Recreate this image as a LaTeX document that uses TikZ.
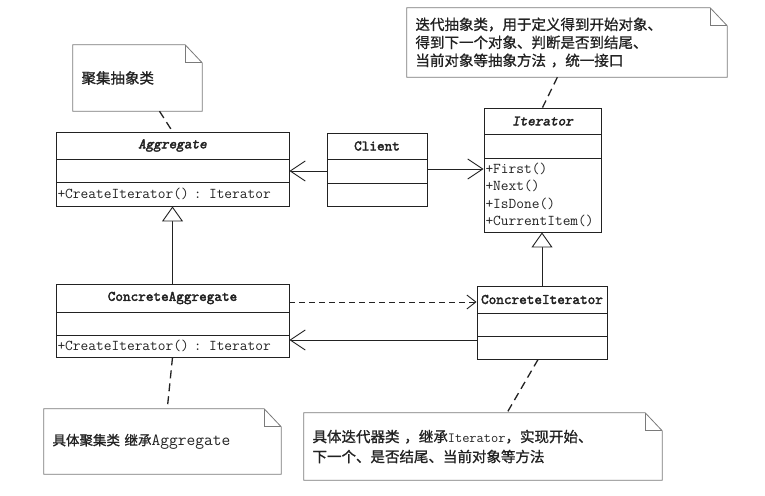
\documentclass[tikz,border=0pt]{standalone}
\usepackage{fontspec}
\newfontfamily\cjk{Noto Sans CJK SC}[FakeBold=1]
\newfontfamily\clsfont{lmmono10-regular}[Extension=.otf, FakeBold=2.5]
\newfontfamily\clsifont{lmmono10-regular}[Extension=.otf, FakeBold=2.5, FakeSlant=0.2]
\usetikzlibrary{arrows.meta,calc}
\definecolor{ink}{HTML}{222222}
\definecolor{notegray}{HTML}{7A7A7A}
\begin{document}
\begin{tikzpicture}[x=1pt,y=-1pt,
  box/.style={draw=ink, line width=0.9pt, rectangle, inner sep=0pt, anchor=center, text=ink},
  clsname/.style={font=\clsfont\fontsize{14.5}{14.5}\selectfont},
  clsabs/.style={font=\clsifont\fontsize{14.5}{14.5}\selectfont},
  member/.style={font=\ttfamily\fontsize{15}{17.3}\selectfont, align=left, inner xsep=1.5pt},
  note/.style={rectangle, inner xsep=8.5pt, inner ysep=0pt, align=left, anchor=center, text=ink},
  noteline/.style={draw=notegray, line width=0.8pt},
  notelink/.style={draw=ink, line width=1.3pt, dash pattern=on 8pt off 5pt},
  assoc/.style={draw=ink, line width=0.9pt, -{Straight Barb[length=15pt,width=20pt]}},
  dep/.style={draw=ink, line width=0.9pt, dash pattern=on 6pt off 4pt, -{Straight Barb[length=9pt,width=14pt]}},
  inherit/.style={draw=ink, line width=0.9pt, -{Triangle[open,length=15pt,width=21pt,fill=white]}}
]
\useasboundingbox[fill=white] (0,0) rectangle (765,495);

% Aggregate
\node[box, clsabs, minimum width=233pt, minimum height=27pt] (agg-h) at (172.5,145.5) {Aggregate};
\node[box, minimum width=233pt, minimum height=23pt] (agg-a) at (172.5,170.5) {};
\node[box, member, minimum height=24pt, text width=230pt] (agg-m) at (172.5,194) {+CreateIterator() : Iterator};

% Client
\node[box, clsname, minimum width=100pt, minimum height=26pt] (cli-h) at (377,146) {Client};
\node[box, minimum width=100pt, minimum height=24pt] (cli-a) at (377,171) {};
\node[box, minimum width=100pt, minimum height=23pt] (cli-m) at (377,194.5) {};

% Iterator
\node[box, clsabs, minimum width=117pt, minimum height=26pt] (it-h) at (542.5,121) {Iterator};
\node[box, minimum width=117pt, minimum height=24pt] (it-a) at (542.5,146) {};
\node[box, member, minimum height=74pt, text width=114pt] (it-m) at (542.5,195) {+First()\\+Next()\\+IsDone()\\+CurrentItem()};

% ConcreteAggregate
\node[box, clsname, minimum width=233pt, minimum height=28pt] (cagg-h) at (172.5,298) {ConcreteAggregate};
\node[box, minimum width=233pt, minimum height=23pt] (cagg-a) at (172.5,323.5) {};
\node[box, member, minimum height=22pt, text width=230pt] (cagg-m) at (172.5,346) {+CreateIterator() : Iterator};

% ConcreteIterator
\node[box, clsname, minimum width=130pt, minimum height=27pt] (cit-h) at (542,299.5) {ConcreteIterator};
\node[box, minimum width=130pt, minimum height=23pt] (cit-a) at (542,324.5) {};
\node[box, minimum width=130pt, minimum height=23pt] (cit-m) at (542,347.5) {};

% Notes
\node[note, minimum height=66pt, text width=112pt, font=\cjk\fontsize{14.5}{18}\selectfont] (n1) at (137.5,78) {聚集抽象类};
\node[note, minimum height=69pt, text width=303pt, font=\cjk\fontsize{14.5}{18}\selectfont] (n2) at (567,42.5)
  {迭代抽象类，用于定义得到开始对象、\\得到下一个对象、判断是否到结尾、\\当前对象等抽象方法 ，统一接口};
\node[note, minimum height=65pt, text width=220pt, font=\cjk\fontsize{13.5}{16}\selectfont] (n3) at (162.5,441.5)
  {具体聚集类\ 继承{\ttfamily\fontsize{17}{17}\selectfont Aggregate}};
\node[note, minimum height=67pt, text width=341pt, font=\cjk\fontsize{14.5}{20}\selectfont] (n4) at (483,446.5)
  {具体迭代器类 ，继承{\ttfamily\fontsize{14}{14}\selectfont Iterator}，实现开始、\\下一个、是否结尾、当前对象等方法};

\foreach \n in {n1,n2,n3,n4}{
  \draw[noteline] (\n.south west) -- (\n.north west) -- ([xshift=-17pt]\n.north east)
    -- ([yshift=-18pt]\n.north east) -- (\n.south east) -- cycle;
  \draw[noteline] ([xshift=-17pt]\n.north east) -- ([xshift=-17pt,yshift=-18pt]\n.north east)
    -- ([yshift=-18pt]\n.north east);
}

% Note links
\draw[notelink] ($(n1.south west)!0.67!(n1.south east)$) -- (agg-h.north);
\draw[notelink] ($(n2.south west)!0.47!(n2.south east)$) -- (it-h.north);
\draw[notelink] (cagg-m.south) -- ($(n3.north west)!0.52!(n3.north east)$);
\draw[notelink] ($(cit-m.south west)!0.47!(cit-m.south east)$) -- ($(n4.north west)!0.567!(n4.north east)$);

% Associations
\draw[assoc] (cli-a.west) -- (cli-a.west -| agg-a.east);
\draw[assoc] ([yshift=2pt]cli-a.east) -- ([yshift=2pt]cli-a.east -| it-m.west);

% Inheritance
\draw[inherit] (cagg-h.north) -- (agg-m.south);
\draw[inherit] (cit-h.north) -- (cit-h.north |- it-m.south);

% Dependency and association between concrete classes
\draw[dep] ([yshift=-4pt]cagg-h.east) -- ([yshift=-4pt]cagg-h.east -| cit-h.west);
\draw[assoc] ([yshift=6pt]cagg-m.east -| cit-m.west) -- ([yshift=6pt]cagg-m.east);
\end{tikzpicture}
\end{document}
